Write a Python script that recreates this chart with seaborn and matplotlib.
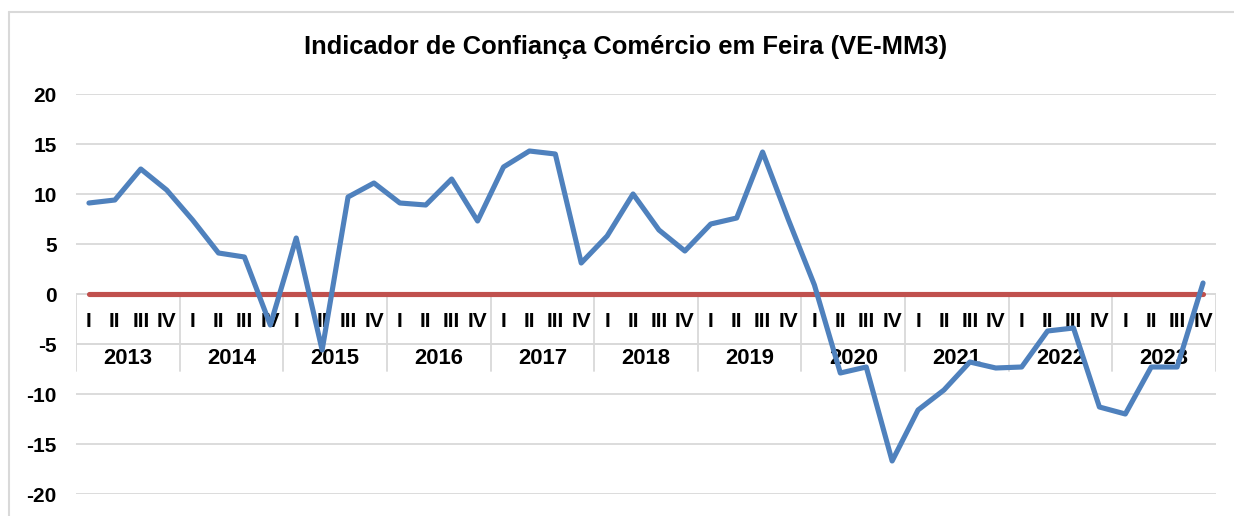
# import libraries
import pandas as pd
import matplotlib
matplotlib.use("Agg")
import matplotlib.pyplot as plt
import seaborn as sns
from matplotlib.lines import Line2D

# Data
years = ["2013", "2014", "2015", "2016", "2017", "2018",
         "2019", "2020", "2021", "2022", "2023"]
quarters = ["I", "II", "III", "IV"]
indicador = [9.1, 9.4, 12.5, 10.4,
             7.4, 4.1, 3.7, -3.1,
             5.6, -5.6, 9.7, 11.1,
             9.1, 8.9, 11.5, 7.3,
             12.7, 14.3, 14.0, 3.1,
             5.8, 10.0, 6.4, 4.3,
             7.0, 7.6, 14.2, 7.4,
             0.9, -7.9, -7.3, -16.7,
             -11.6, -9.6, -6.8, -7.4,
             -7.3, -3.7, -3.4, -11.3,
             -12.0, -7.3, -7.3, 1.1]
referencia = [0] * len(indicador)

df = pd.DataFrame({
    "pos": range(len(indicador)),
    "Indicador": indicador,
    "Zero": referencia,
})

# Style
sns.set_theme(style="white")
plt.rcParams["font.family"] = ["Liberation Sans", "DejaVu Sans"]
plt.rcParams["font.weight"] = "bold"
plt.rcParams["text.color"] = "black"
plt.rcParams["ytick.color"] = "black"

blue = "#4F81BD"
red = "#C0504D"
grid_col = "#D9D9D9"
fs = 15

fig = plt.figure(figsize=(12.34, 5.16), dpi=100)
W, H = 1234, 516
ax = fig.add_axes([76 / W, 22 / H, (1216 - 76) / W, (494 - 94) / H])

# gridlines
for v in range(-20, 21, 5):
    ax.axhline(v, color=grid_col, lw=1.3, zorder=0)

# lines
sns.lineplot(data=df, x="pos", y="Zero", ax=ax, color=red, lw=3.7,
             solid_capstyle="round", zorder=3)
sns.lineplot(data=df, x="pos", y="Indicador", ax=ax, color=blue, lw=3.7,
             solid_capstyle="round", zorder=4)

n = len(indicador)
ax.set_xlim(-0.5, n - 0.5)
ax.set_ylim(-20, 20)
ax.set_yticks(range(-20, 21, 5))
ax.set_yticklabels([str(v) for v in range(-20, 21, 5)],
                   fontsize=fs, fontweight="bold", color="black")
ax.tick_params(axis="y", length=0, pad=14)
ax.set_xticks([])
ax.set_xlabel("")
ax.set_ylabel("")
for s in ax.spines.values():
    s.set_visible(False)

# two-level category axis drawn at y = 0
tbl_bottom = -7.7
tbl_mid = -5.0
ax.plot([-0.5, n - 0.5], [0, 0], color=grid_col, lw=1.3, zorder=1)
ax.plot([-0.5, n - 0.5], [tbl_mid, tbl_mid], color=grid_col, lw=1.3, zorder=1)
for k in range(len(years) + 1):
    xb = -0.5 + 4 * k
    ax.plot([xb, xb], [0, tbl_bottom], color=grid_col, lw=1.3, zorder=1)
for i in range(n):
    ax.text(i, -2.75, quarters[i % 4], ha="center", va="center",
            fontsize=fs, fontweight="bold", color="black", zorder=2)
for k, yr in enumerate(years):
    ax.text(4 * k + 1.5, -6.4, yr, ha="center", va="center",
            fontsize=15.8, fontweight="bold", color="black", zorder=2)

# title
fig.text(626 / W, 1 - 47 / H, "Indicador de Confiança Comércio em Feira (VE-MM3)",
         ha="center", va="center", fontsize=18.4, fontweight="bold", color="black")

# chart border (left and top visible)
fig.add_artist(Line2D([9 / W, 9 / W], [0, 1 - 12 / H], color=grid_col, lw=1.5))
fig.add_artist(Line2D([9 / W, 1], [1 - 12 / H, 1 - 12 / H], color=grid_col, lw=1.5))

plt.savefig("out.png", dpi=100)
plt.close()
